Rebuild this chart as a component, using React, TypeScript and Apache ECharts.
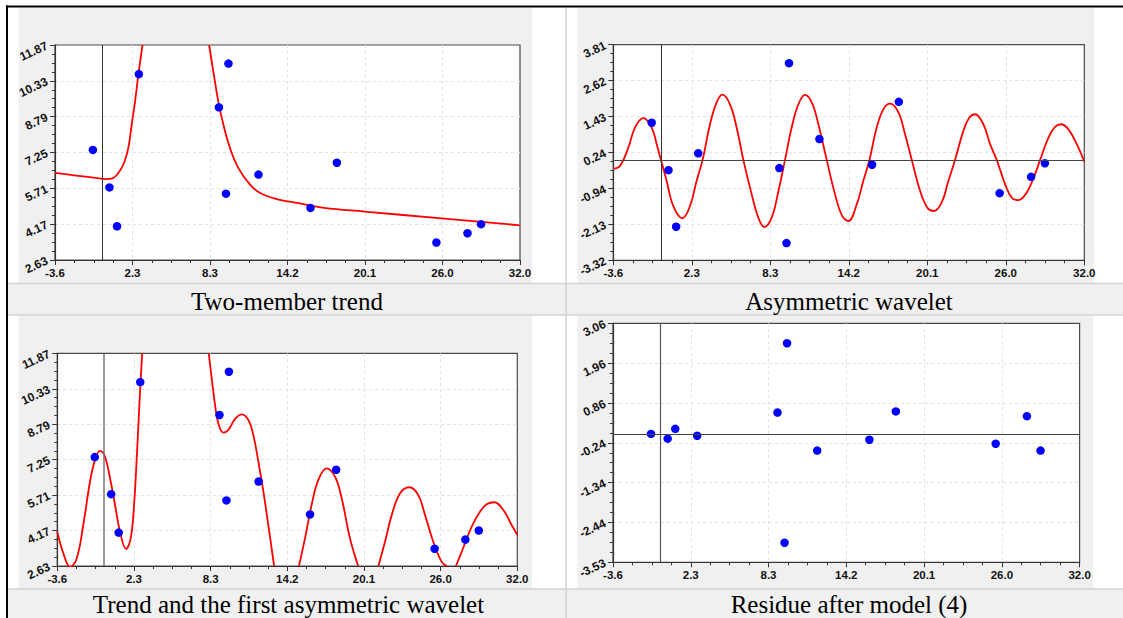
import React, { useEffect, useRef } from "react";
import * as echarts from "echarts";

// ---- data ----
const xValues = [-0.7, 0.57, 1.15, 2.82, 8.95, 9.49, 9.68, 11.98, 15.96, 17.98, 25.6, 27.98, 29.02];
const observed = [7.36, 5.75, 4.08, 10.62, 9.19, 5.48, 11.07, 6.3, 4.87, 6.81, 3.38, 3.78, 4.17];
const waveletPart = [1.23, -0.34, -2.21, 0.22, -0.27, -2.75, 3.2, 0.69, -0.16, 1.92, -1.1, -0.56, -0.11];
const residue = [0.01, -0.12, 0.15, -0.04, 0.6, -2.99, 2.51, -0.45, -0.15, 0.63, -0.26, 0.5, -0.45];

const xTickLabels = ["-3.6", "2.3", "8.3", "14.2", "20.1", "26.0", "32.0"];
const trendTickLabels = ["2.63", "4.17", "5.71", "7.25", "8.79", "10.33", "11.87"];
const waveletTickLabels = ["-3.32", "-2.13", "-0.94", "0.24", "1.43", "2.62", "3.81"];
const residueTickLabels = ["-3.53", "-2.44", "-1.34", "-0.24", "0.86", "1.96", "3.06"];

const captions = [
  "Two-member trend",
  "Asymmetric wavelet",
  "Trend and the first asymmetric wavelet",
  "Residue after model (4)",
];

// curves (null = the curve leaves the plot area)
const trendCurve: (number[] | null)[] = [
  [-3.6, 6.37], [-2.0, 6.26], [-0.5, 6.16], [0.23, 6.11], [0.74, 6.13], [1.25, 6.37], [1.68, 6.8],
  [2.01, 7.44], [2.27, 8.45], [2.53, 9.45], [2.78, 10.59], [3.1, 11.87],
  null,
  [8.2, 11.87], [8.52, 10.74], [8.9, 9.45], [9.29, 8.45], [9.8, 7.44], [10.44, 6.58], [11.33, 5.87],
  [12.1, 5.51], [13.37, 5.25], [15.03, 5.07], [17.0, 4.87], [20.1, 4.71], [26.0, 4.42], [32.0, 4.12],
];

const waveletCurve: (number[] | null)[] = [
  [-3.6, -0.29], [-3.1, -0.2], [-2.46, 0.41], [-1.96, 1.07], [-1.33, 1.38], [-0.7, 1.07], [-0.32, 0.52],
  [0.0, 0.0], [0.43, -0.69], [0.93, -1.52], [1.62, -1.93], [2.2, -1.52], [2.7, -0.69], [3.15, 0.0],
  [3.71, 1.18], [4.21, 1.9], [4.64, 2.16], [5.22, 1.84], [5.72, 1.07], [6.23, 0.0], [6.86, -1.14],
  [7.36, -1.91], [7.82, -2.22], [8.37, -1.91], [8.88, -1.03], [9.38, 0.0], [9.88, 1.07], [10.39, 1.84],
  [10.89, 2.15], [11.4, 1.9], [11.9, 1.18], [12.53, 0.0], [13.16, -1.14], [13.7, -1.85], [14.17, -2.02],
  [14.8, -1.47], [15.3, -0.69], [15.76, 0.0], [16.31, 1.07], [16.82, 1.68], [17.32, 1.86], [17.95, 1.57],
  [18.45, 0.85], [18.96, 0.0], [19.59, -1.03], [20.14, -1.58], [20.6, -1.69], [21.22, -1.41],
  [21.73, -0.69], [22.23, 0.0], [22.86, 0.96], [23.32, 1.4], [23.74, 1.51], [24.37, 1.18], [24.88, 0.52],
  [25.38, 0.0], [26.01, -0.8], [26.52, -1.25], [27.02, -1.33], [27.65, -1.08], [28.28, -0.47],
  [28.66, 0.0], [29.29, 0.74], [29.79, 1.09], [30.24, 1.18], [30.8, 1.01], [31.43, 0.52], [32.0, -0.06],
];

const modelCurve: (number[] | null)[] = [
  [-3.6, 4.12], [-3.13, 3.18], [-2.6, 2.58], [-2.1, 2.96], [-1.59, 4.41], [-1.07, 6.29], [-0.68, 7.24],
  [-0.3, 7.63], [0.09, 7.38], [0.48, 6.44], [0.87, 5.28], [1.25, 4.12], [1.72, 3.37], [2.08, 3.83],
  [2.34, 5.28], [2.6, 7.89], [2.75, 9.62], [2.86, 10.78], [2.97, 11.87],
  null,
  [8.12, 11.87], [8.35, 10.78], [8.61, 9.62], [8.86, 8.83], [9.25, 8.42], [9.64, 8.54], [10.16, 9.02],
  [10.67, 9.22], [11.19, 8.97], [11.57, 8.32], [11.96, 7.16], [12.35, 5.86], [12.73, 4.41], [13.18, 2.63],
  null,
  [15.1, 2.63], [15.57, 3.83], [16.08, 5.28], [16.6, 6.37], [17.24, 6.87], [17.89, 6.51], [18.41, 5.57],
  [19.05, 3.83], [19.68, 2.63],
  null,
  [21.25, 2.63], [21.76, 3.68], [22.28, 4.84], [22.92, 5.78], [23.64, 6.05], [24.34, 5.71], [24.86, 4.84],
  [25.5, 3.68], [26.15, 2.81], [26.55, 2.63],
  null,
  [27.25, 2.63], [27.7, 3.25], [28.47, 4.34], [29.11, 4.99], [29.63, 5.31], [30.22, 5.4], [30.92, 5.06],
  [31.56, 4.41], [32.0, 3.98],
];

const X_MIN = -3.6;
const X_MAX = 32.0;

type Panel = {
  grid: { left: number; top: number; width: number; height: number };
  yMin: number;
  yMax: number;
  yLabels: string[];
  values: number[];
  curve: (number[] | null)[] | null;
  hLine: boolean;
  vColor: string;
  vWidth: number;
};

const panels: Panel[] = [
  { grid: { left: 55, top: 45, width: 465, height: 215 }, yMin: 2.63, yMax: 11.87, yLabels: trendTickLabels,
    values: observed, curve: trendCurve, hLine: false, vColor: "#333", vWidth: 1 },
  { grid: { left: 613.3, top: 44.7, width: 471, height: 215.6 }, yMin: -3.32, yMax: 3.81, yLabels: waveletTickLabels,
    values: waveletPart, curve: waveletCurve, hLine: true, vColor: "#333", vWidth: 1 },
  { grid: { left: 57.3, top: 353.3, width: 460, height: 212.7 }, yMin: 2.63, yMax: 11.87, yLabels: trendTickLabels,
    values: observed, curve: modelCurve, hLine: false, vColor: "#777", vWidth: 1.5 },
  { grid: { left: 613, top: 323.3, width: 466.6, height: 239 }, yMin: -3.53, yMax: 3.06, yLabels: residueTickLabels,
    values: residue, curve: null, hLine: true, vColor: "#555", vWidth: 1.2 },
];

const LABEL_FONT = "'Liberation Sans', Arial, sans-serif";
const CAPTION_FONT = "'Liberation Serif', 'Times New Roman', serif";

function buildOption() {
  const xSpan = X_MAX - X_MIN;
  const xInt = xSpan / 6;
  const grids: any[] = [];
  const xAxes: any[] = [];
  const yAxes: any[] = [];
  const series: any[] = [];

  panels.forEach((p, i) => {
    const ySpan = p.yMax - p.yMin;
    const yInt = ySpan / 6;
    grids.push({
      ...p.grid,
      show: true,
      backgroundColor: "#ffffff",
      borderColor: "#4a4a4a",
      borderWidth: 1.2,
      containLabel: false,
    });
    const tickStyle = { color: "#333", width: 1 };
    const splitStyle = {
      show: true,
      showMinLine: false,
      showMaxLine: false,
      lineStyle: { color: "#e2e2e2", type: [3, 3], width: 1 },
    };
    xAxes.push({
      type: "value",
      gridIndex: i,
      min: 0,
      max: xSpan,
      interval: xInt,
      axisLine: { show: true, onZero: false, lineStyle: { color: "#333", width: 1.2 } },
      axisTick: { show: true, length: 5, lineStyle: tickStyle },
      minorTick: { show: true, splitNumber: 4, length: 3, lineStyle: tickStyle },
      splitLine: splitStyle,
      axisLabel: {
        formatter: (v: number) => xTickLabels[Math.round(v / xInt)] ?? "",
        fontSize: 11.5,
        fontWeight: "bold",
        color: "#111",
        fontFamily: LABEL_FONT,
        margin: 7,
        hideOverlap: false,
        showMinLabel: true,
        showMaxLabel: true,
      },
    });
    yAxes.push({
      type: "value",
      gridIndex: i,
      min: 0,
      max: ySpan,
      interval: yInt,
      axisLine: { show: true, onZero: false, lineStyle: { color: "#333", width: 1.2 } },
      axisTick: { show: true, length: 5, lineStyle: tickStyle },
      minorTick: { show: true, splitNumber: 4, length: 3, lineStyle: tickStyle },
      splitLine: splitStyle,
      axisLabel: {
        formatter: (v: number) => p.yLabels[Math.round(v / yInt)] ?? "",
        fontSize: 12,
        fontWeight: "bold",
        color: "#111",
        fontFamily: LABEL_FONT,
        rotate: 25,
        margin: 8,
        hideOverlap: false,
        showMinLabel: true,
        showMaxLabel: true,
      },
    });

    const markData: any[] = [
      { xAxis: 0 - X_MIN, lineStyle: { color: p.vColor, width: p.vWidth, type: "solid" } },
    ];
    if (p.hLine) {
      markData.push({ yAxis: 0 - p.yMin, lineStyle: { color: "#444", width: 1, type: "solid" } });
    }
    series.push({
      type: "line",
      xAxisIndex: i,
      yAxisIndex: i,
      data: [],
      silent: true,
      z: 1,
      markLine: {
        silent: true,
        symbol: ["none", "none"],
        label: { show: false },
        animation: false,
        data: markData,
      },
    });

    if (p.curve) {
      let lastX = X_MIN;
      const data = p.curve.map((pt) => {
        if (!pt) return [lastX - X_MIN, "-"];
        lastX = pt[0];
        return [pt[0] - X_MIN, pt[1] - p.yMin];
      });
      series.push({
        type: "line",
        xAxisIndex: i,
        yAxisIndex: i,
        data,
        smooth: 0.4,
        showSymbol: false,
        symbol: "none",
        connectNulls: false,
        clip: true,
        silent: true,
        z: 2,
        lineStyle: { color: "#ff0000", width: 1.8 },
      });
    }

    series.push({
      type: "scatter",
      xAxisIndex: i,
      yAxisIndex: i,
      data: xValues.map((x, k) => [x - X_MIN, p.values[k] - p.yMin]),
      symbol: "circle",
      symbolSize: 8.5,
      silent: true,
      z: 3,
      itemStyle: { color: "#0000ff", opacity: 1 },
    });
  });

  const grey = "#f0f0f0";
  const lineGrey = "#d2d2d2";
  const graphic: any[] = [
    { type: "rect", shape: { x: 18.5, y: 8, width: 513.5, height: 275 }, style: { fill: grey }, z: -10, silent: true },
    { type: "rect", shape: { x: 577.5, y: 8, width: 516.5, height: 275 }, style: { fill: grey }, z: -10, silent: true },
    { type: "rect", shape: { x: 8, y: 283.5, width: 1115, height: 31.5 }, style: { fill: grey }, z: -10, silent: true },
    { type: "rect", shape: { x: 18.5, y: 316, width: 513.5, height: 272.5 }, style: { fill: grey }, z: -10, silent: true },
    { type: "rect", shape: { x: 577.5, y: 316, width: 515.5, height: 272.5 }, style: { fill: grey }, z: -10, silent: true },
    { type: "rect", shape: { x: 8, y: 589, width: 1115, height: 29 }, style: { fill: grey }, z: -10, silent: true },
    { type: "line", shape: { x1: 8, y1: 283.5, x2: 1123, y2: 283.5 }, style: { stroke: lineGrey, lineWidth: 1.5 }, z: -9, silent: true },
    { type: "line", shape: { x1: 8, y1: 315, x2: 1123, y2: 315 }, style: { stroke: lineGrey, lineWidth: 1.5 }, z: -9, silent: true },
    { type: "line", shape: { x1: 8, y1: 589, x2: 1123, y2: 589 }, style: { stroke: lineGrey, lineWidth: 1.5 }, z: -9, silent: true },
    { type: "line", shape: { x1: 566, y1: 8, x2: 566, y2: 618 }, style: { stroke: lineGrey, lineWidth: 1.5 }, z: -9, silent: true },
    { type: "rect", shape: { x: 6, y: 5.5, width: 1117, height: 2 }, style: { fill: "#000" }, z: -8, silent: true },
    { type: "rect", shape: { x: 6, y: 5.5, width: 2, height: 612.5 }, style: { fill: "#000" }, z: -8, silent: true },
  ];
  const capPos = [
    [287, 301],
    [849, 301],
    [288.5, 604.5],
    [849, 604.5],
  ];
  captions.forEach((c, i) => {
    graphic.push({
      type: "text",
      x: capPos[i][0],
      y: capPos[i][1],
      z: -7,
      silent: true,
      style: {
        text: c,
        fill: "#000",
        font: `25px ${CAPTION_FONT}`,
        textAlign: "center",
        textVerticalAlign: "middle",
      },
    });
  });

  return {
    animation: false,
    backgroundColor: "#ffffff",
    grid: grids,
    xAxis: xAxes,
    yAxis: yAxes,
    series,
    graphic,
  };
}

export default function App() {
  const ref = useRef<HTMLDivElement>(null);
  useEffect(() => {
    if (!ref.current) return;
    const chart = echarts.init(ref.current, undefined, { renderer: "svg" });
    chart.setOption(buildOption() as any);
    return () => chart.dispose();
  }, []);
  return (
    <div
      ref={ref}
      style={{ position: "absolute", left: 0, top: 0, width: 1123, height: 618 }}
    />
  );
}
